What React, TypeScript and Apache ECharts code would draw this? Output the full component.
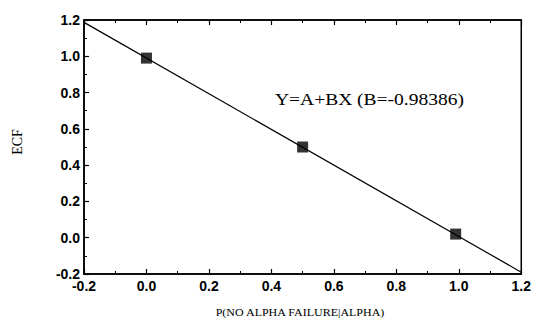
import React, { useEffect, useRef } from "react";
import * as echarts from "echarts";

const xTicks = [-0.2, 0.0, 0.2, 0.4, 0.6, 0.8, 1.0, 1.2];
const yTicks = [-0.2, 0.0, 0.2, 0.4, 0.6, 0.8, 1.0, 1.2];
const pointX = [0.0, 0.5, 0.99];
const pointY = [0.99, 0.5, 0.02];
const fitX = [-0.2, 1.2];
const fitY = [1.187, -0.19];
const annotation = "Y=A+BX (B=-0.98386)";
const xName = "P(NO ALPHA FAILURE|ALPHA)";
const yName = "ECF";

export default function App() {
  const ref = useRef<HTMLDivElement>(null);
  useEffect(() => {
    document.body.style.margin = "0";
    const chart = echarts.init(ref.current!, null, { renderer: "svg" });
    const labelStyle = {
      color: "#000",
      fontFamily: "Liberation Sans, Arial, sans-serif",
      fontWeight: "bold" as const,
      fontSize: 14,
    };
    const axisCommon = {
      type: "value" as const,
      min: xTicks[0],
      max: xTicks[xTicks.length - 1],
      interval: 0.2,
      splitLine: { show: false },
      axisLine: { show: true, onZero: false, lineStyle: { color: "#000", width: 1.5 } },
      axisTick: { show: true, inside: true, length: 5, lineStyle: { color: "#000", width: 1.2 } },
      minorTick: { show: true, splitNumber: 2, length: 3, lineStyle: { color: "#000", width: 1 } },
    };
    chart.setOption({
      animation: false,
      backgroundColor: "#fff",
      grid: {
        left: 84,
        right: 9,
        top: 20,
        bottom: 46,
        show: true,
        borderColor: "#000",
        borderWidth: 1.5,
      },
      xAxis: [
        {
          ...axisCommon,
          position: "bottom",
          axisLabel: {
            ...labelStyle,
            margin: 5,
            formatter: (v: number) => v.toFixed(1),
          },
        },
        {
          ...axisCommon,
          position: "top",
          axisLabel: { show: false },
        },
      ],
      yAxis: [
        {
          ...axisCommon,
          min: yTicks[0],
          max: yTicks[yTicks.length - 1],
          axisLabel: {
            ...labelStyle,
            margin: 4,
            formatter: (v: number) => v.toFixed(1),
          },
        },
      ],
      series: [
        {
          type: "line",
          data: fitX.map((x, i) => [x, fitY[i]]),
          symbol: "none",
          lineStyle: { color: "#000", width: 1.2 },
          silent: true,
        },
        {
          type: "scatter",
          data: pointX.map((x, i) => [x, pointY[i]]),
          symbol: "rect",
          symbolSize: 11,
          itemStyle: { color: "#000" },
        },
      ],
      graphic: [
        {
          type: "text",
          x: 275,
          y: 100,
          scaleX: 1.22,
          style: {
            text: annotation,
            fontFamily: "Liberation Serif, Times New Roman, serif",
            fontSize: 16,
            fill: "#000",
            textVerticalAlign: "middle",
          },
        },
        {
          type: "text",
          x: 300,
          y: 312,
          scaleX: 1.2,
          style: {
            text: xName,
            fontFamily: "Liberation Serif, Times New Roman, serif",
            fontSize: 10,
            fill: "#000",
            textAlign: "center",
            textVerticalAlign: "middle",
          },
        },
        {
          type: "text",
          x: 17,
          y: 142,
          rotation: Math.PI / 2,
          style: {
            text: yName,
            fontFamily: "Liberation Serif, Times New Roman, serif",
            fontSize: 14,
            fill: "#000",
            textAlign: "center",
            textVerticalAlign: "middle",
          },
        },
      ],
    });
    return () => chart.dispose();
  }, []);
  return <div ref={ref} style={{ width: 534, height: 320 }} />;
}
